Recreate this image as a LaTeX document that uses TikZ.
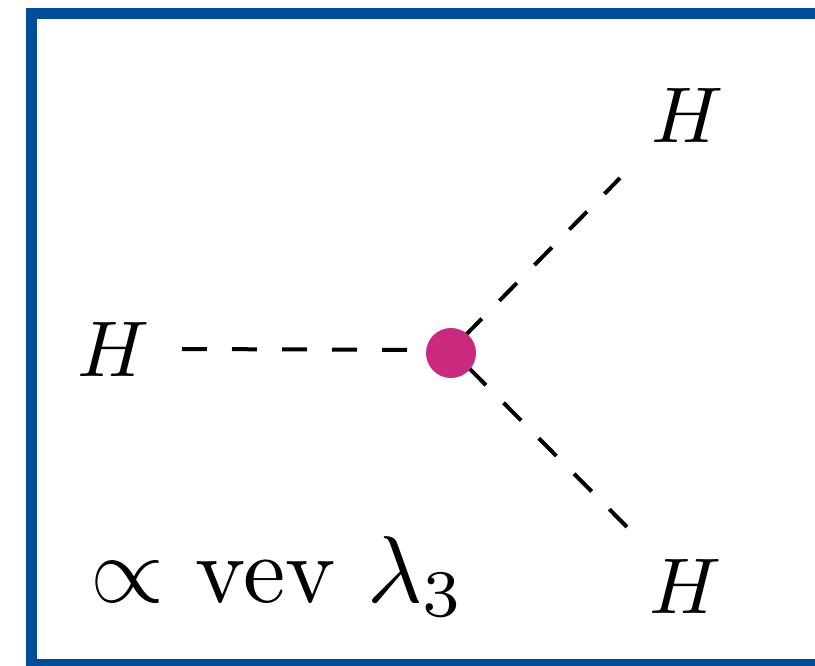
\documentclass[tikz,border=0pt]{standalone}
\usepackage{graphicx}
\definecolor{framebl}{RGB}{0,76,153}
\definecolor{dotmag}{RGB}{201,42,126}
\begin{document}
\begin{tikzpicture}[x=0.5pt,y=-0.5pt,
  lbl/.style={inner sep=0pt,anchor=base},
  prop/.style={line width=2pt,dash pattern=on 12.5pt off 12.5pt},
  vtx/.style={circle,fill=dotmag,minimum size=25pt,inner sep=0pt}]
\useasboundingbox (0,0) rectangle (815,665);
\clip (0,0) rectangle (815,665);
\draw[framebl,line width=5.5pt] (31,13.5) rectangle (840,664.5);
% line end points
\coordinate (c) at (451,350);
\coordinate (l) at (182,349);
\coordinate (u) at (620,178);
\coordinate (d) at (628,528);
\draw[prop] (l) -- (c);
\draw[prop,dash phase=15.5pt] (c) -- (u);
\draw[prop,dash phase=12.75pt] (c) -- (d);
\node[vtx] (v) at (451,353) {};
\node[lbl] (hl) at (114,376) {\scalebox{3.95}{$H$}};
\node[lbl] (hu) at (688,142) {\scalebox{3.95}{$H$}};
\node[lbl] (hd) at (686,613) {\scalebox{3.95}{$H$}};
\node[lbl,anchor=base west] (t) at (90,602) {\scalebox{4.75}{$\propto$ vev $\lambda_3$}};
\end{tikzpicture}
\end{document}
